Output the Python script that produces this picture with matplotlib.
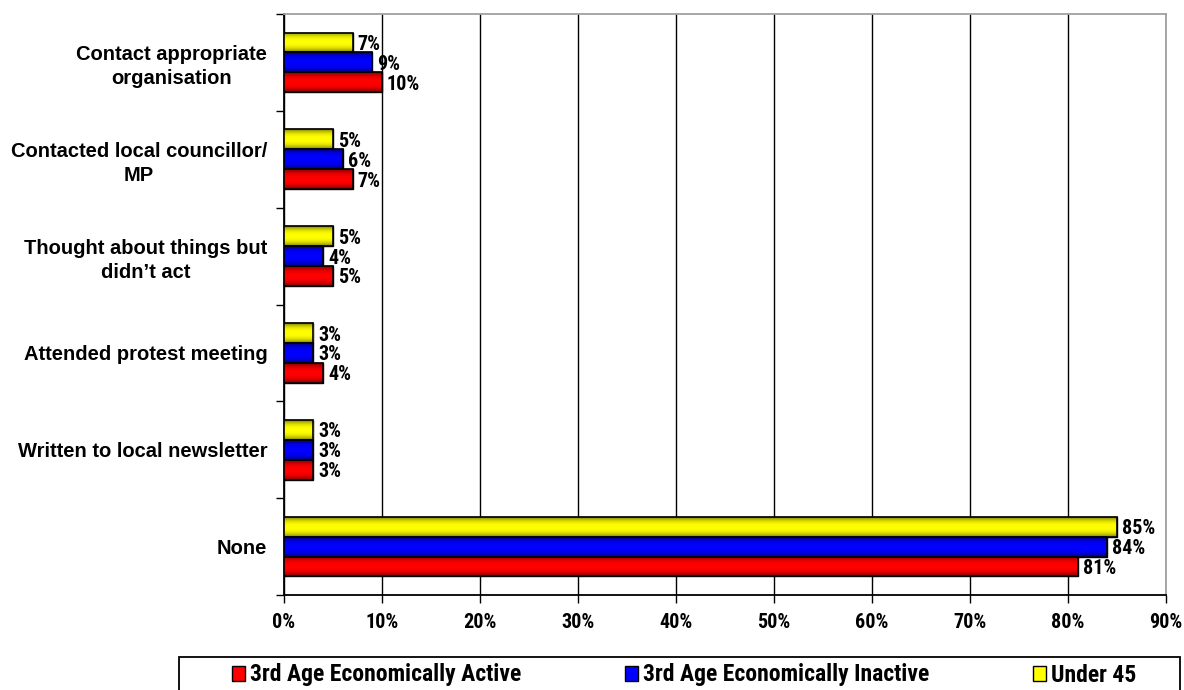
import matplotlib
matplotlib.use('Agg')
import matplotlib.pyplot as plt
from matplotlib.patches import Rectangle
from matplotlib.colors import to_rgb
import numpy as np

categories = ['Contact appropriate\norganisation', 'Contacted local councillor/\nMP',
              'Thought about things but\ndidn\u2019t act', 'Attended protest meeting',
              'Written to local newsletter', 'None']
active = [10, 7, 5, 4, 3, 81]
inactive = [9, 6, 4, 3, 3, 84]
under45 = [7, 5, 5, 3, 3, 85]
series_names = ['3rd Age Economically Active', '3rd Age Economically Inactive', 'Under 45']
colors = ['#ff0000', '#0000ff', '#ffff00']
xticks = list(range(0, 100, 10))

narrow = ['Roboto Condensed', 'DejaVu Sans']

fig = plt.figure(figsize=(11.84, 6.9), dpi=100)
ax = fig.add_axes([284/1184, 1 - 595/690, (1166 - 284)/1184, (595 - 14)/690])

y = np.arange(len(categories))
h = 0.205
offsets = [h, 0, -h]
bars = []
shade = 1 - 0.5 * np.abs(np.linspace(-1, 1, 40)) ** 2.5
for vals, off, c in zip([active, inactive, under45], offsets, colors):
    b = ax.barh(y + off, vals, height=h, color=c, edgecolor='black', linewidth=1, zorder=3)
    bars.append(b)
    grad = np.clip(np.array(to_rgb(c))[None, None, :] * shade[:, None, None], 0, 1)
    for p in b.patches:
        x0, y0 = p.get_x(), p.get_y()
        im = ax.imshow(grad, extent=(x0, x0 + p.get_width(), y0, y0 + p.get_height()),
                       aspect='auto', zorder=3.5, interpolation='bilinear')
        im.set_clip_path(p)
        edge = Rectangle((x0, y0), p.get_width(), p.get_height(), fill=False,
                         edgecolor='black', linewidth=1.2, zorder=3.6)
        ax.add_patch(edge)
    for yy, v in zip(y + off, vals):
        ax.text(v + 0.5, yy + 0.02, f'{v}%', va='center', ha='left', fontsize=14.5,
                fontweight='bold', family=narrow, zorder=4)

ax.set_xlim(0, 90)
ax.set_ylim(len(categories) - 0.5, -0.5)
ax.set_xticks(xticks)
ax.set_xticklabels([f'{t}%' for t in xticks], fontsize=14.5, fontweight='bold', family=narrow)
ax.tick_params(axis='x', direction='out', length=6, width=1, pad=7, color='black')
ax.set_yticks(y)
ax.set_yticklabels(categories, fontsize=14.5, fontweight='bold', family='Liberation Sans')
for t in ax.get_yticklabels():
    t.set_multialignment('center')
    t.set_linespacing(1.3)
ax.tick_params(axis='y', which='major', length=0, pad=12)
ax.set_yticks(np.arange(-0.5, len(categories)), minor=True)
ax.tick_params(axis='y', which='minor', direction='out', length=6, width=1, color='black')

ax.grid(axis='x', color='black', linewidth=1, zorder=0)
ax.set_axisbelow(True)
ax.spines['left'].set_color('black')
ax.spines['bottom'].set_color('black')
ax.spines['top'].set_color('#a0a0a0')
ax.spines['right'].set_color('#a0a0a0')
for s in ax.spines.values():
    s.set_linewidth(1.3)

# legend box
fig.patches.append(Rectangle((179/1184, -0.05), (1180 - 179)/1184, 0.05 + 1 - 657/690,
                             transform=fig.transFigure, facecolor='white',
                             edgecolor='black', linewidth=1.3))
leg_x = [232/1184, 625/1184, 1033/1184]
for b, name, lx in zip(bars, series_names, leg_x):
    fig.legend([b], [name], loc='center left', bbox_to_anchor=(lx, 1 - 675/690),
               frameon=False, handlelength=0.55, handleheight=0.6, handletextpad=0.2,
               borderpad=0, borderaxespad=0,
               prop={'family': narrow, 'weight': 'bold', 'size': 17})

fig.savefig('out.png', dpi=100)
